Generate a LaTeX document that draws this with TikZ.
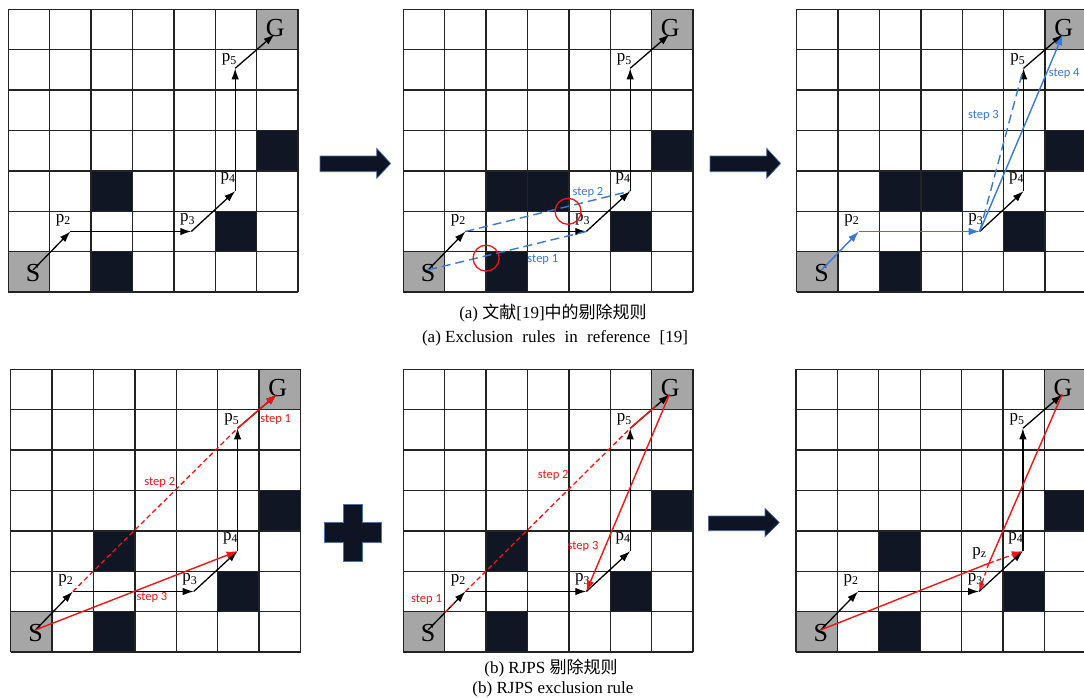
\documentclass[tikz,border=0pt]{standalone}
\usepackage{fontspec}
\setmainfont{Liberation Serif}
\newfontfamily\cjk{Noto Sans CJK SC}
\newfontfamily\stepfont{Carlito}
\usetikzlibrary{arrows.meta,calc}

\definecolor{obst}{RGB}{16,22,36}
\definecolor{sgc}{RGB}{166,166,166}
\definecolor{gl}{RGB}{35,35,35}
\definecolor{bl}{RGB}{58,120,216}
\definecolor{rd}{RGB}{240,20,20}
\definecolor{bigarrow}{RGB}{14,20,36}
\definecolor{bigedge}{RGB}{80,110,170}

\tikzset{
 obstcell/.style={fill=obst},
 sgcell/.style={fill=sgc},
 gline/.style={draw=gl, line width=1.3pt},
 tip/.style={-{Latex[length=11pt,width=7.5pt]}},
 blk/.style={draw=black, line width=1.3pt, tip},
 blu/.style={draw=bl, line width=1.4pt, tip},
 bludash/.style={draw=bl, line width=1.4pt, dash pattern=on 9pt off 5pt},
 rdl/.style={draw=rd, line width=1.4pt},
 rdarrow/.style={draw=rd, line width=1.4pt, tip},
 rddash/.style={draw=rd, line width=1.3pt, dash pattern=on 5pt off 3pt},
 bigl/.style={font=\fontsize{26}{26}\selectfont, inner sep=0pt},
 plab/.style={font=\fontsize{17}{17}\selectfont, inner sep=0pt},
 steplab/.style={font=\stepfont\fontsize{12.5}{12.5}\selectfont, inner sep=0pt},
 ring/.style={draw=rd, line width=1.3pt, circle, minimum size=26pt, inner sep=0pt},
 captext/.style={font=\fontsize{17}{17}\selectfont, inner sep=0pt},
 bigshape/.style={fill=bigarrow, draw=bigedge, line width=0.6pt},
 cellsys/.style={x=41.4pt, y=-40.4pt},
}

\newcommand{\gridbase}[2]{%
  \fill[sgcell] (0,6) rectangle (1,7);
  \fill[sgcell] (6,0) rectangle (7,1);
  \foreach \c/\r in {#2} {\fill[obstcell] (\c,\r) rectangle ++(1,1);}
  \foreach \i in {0,...,7} {\draw[gline] (\i,0) -- (\i,7); \draw[gline] (0,\i) -- (7,\i);}
  \coordinate (#1S) at (0.6,6.45);
  \coordinate (#1p2) at (1.5,5.5);
  \coordinate (#1p3) at (4.42,5.5);
  \coordinate (#1p4) at (5.48,4.5);
  \coordinate (#1p5) at (5.48,1.46);
  \coordinate (#1G) at (6.43,0.62);
  \node[bigl] (#1Sl) at (0.6,6.52) {S};
  \node[bigl] (#1Gl) at (6.45,0.47) {G};
  \node[plab] (#1p2l) at ($(#1p2)+(-0.17,-0.28)$) {p\textsubscript{2}};
  \node[plab] (#1p3l) at ($(#1p3)+(-0.09,-0.29)$) {p\textsubscript{3}};
  \node[plab] (#1p4l) at ($(#1p4)+(-0.17,-0.32)$) {p\textsubscript{4}};
  \node[plab] (#1p5l) at ($(#1p5)+(-0.14,-0.22)$) {p\textsubscript{5}};
}

\begin{document}
\begin{tikzpicture}[x=1pt,y=-1pt]
\useasboundingbox (0,0) rectangle (1084,697);
\fill[white] (0,0) rectangle (1084,697);

% ---------- grid 1 ----------
\begin{scope}[shift={(8.3pt,-9.3pt)},cellsys]
  \gridbase{a}{2/4,6/3,5/5,2/6}
  \draw[blk] (aS) -- (ap2);
  \draw[blk] (ap2) -- (ap3);
  \draw[blk] (ap3) -- (ap4);
  \draw[blk] (ap4) -- (ap5);
  \draw[blk] (ap5) -- (aG);
\end{scope}

% ---------- grid 2 ----------
\begin{scope}[shift={(403.3pt,-9.3pt)},cellsys]
  \gridbase{b}{2/4,3/4,6/3,5/5,2/6}
  \draw[blk] (bS) -- (bp2);
  \draw[blk] (bp2) -- (bp3);
  \draw[blk] (bp3) -- (bp4);
  \draw[blk] (bp4) -- (bp5);
  \draw[blk] (bp5) -- (bG);
  \draw[bludash] (bS) -- (bp3);
  \draw[bludash] (bp2) -- (bp4);
  \node[ring] (bc1) at (2.0,6.16) {};
  \node[ring] (bc2) at (3.98,5.0) {};
  \node[steplab,text=bl] (bs1) at (3.37,6.2) {step 1};
  \node[steplab,text=bl] (bs2) at (4.46,4.53) {step 2};
\end{scope}

% ---------- grid 3 ----------
\begin{scope}[shift={(796.7pt,-9.3pt)},cellsys]
  \gridbase{c}{2/4,3/4,6/3,5/5,2/6}
  \draw[blu] (cS) -- (cp2);
  \draw[blu] (cp2) -- (cp3);
  \draw[blk] (cp3) -- (cp4);
  \draw[blk] (cp4) -- (cp5);
  \draw[blk] (cp5) -- (cG);
  \draw[bludash] (cp3) -- (cp5);
  \draw[blu] (cp3) -- (cG);
  \node[steplab,text=bl] (cs3) at (4.51,2.62) {step 3};
  \node[steplab,text=bl] (cs4) at (6.46,1.58) {step 4};
\end{scope}

% ---------- grid 4 ----------
\begin{scope}[shift={(10.7pt,-369.3pt)},cellsys]
  \gridbase{d}{2/4,6/3,5/5,2/6}
  \draw[blk] (dS) -- (dp2);
  \draw[blk] (dp2) -- (dp3);
  \draw[blk] (dp3) -- (dp4);
  \draw[blk] (dp4) -- (dp5);
  \draw[blk] (dp5) -- (dG);
  \draw[rddash] (dp2) -- (dp5);
  \draw[rdarrow] (dp5) -- (dG);
  \draw[rdarrow] (dS) -- (dp4);
  \node[steplab,text=rd] (ds1) at (6.4,1.25) {step 1};
  \node[steplab,text=rd] (ds2) at (3.6,2.8) {step 2};
  \node[steplab,text=rd] (ds3) at (3.41,5.64) {step 3};
\end{scope}

% ---------- grid 5 ----------
\begin{scope}[shift={(403.3pt,-369.3pt)},cellsys]
  \gridbase{e}{2/4,6/3,5/5,2/6}
  \draw[blk] (eS) -- (ep2);
  \draw[blk] (ep2) -- (ep3);
  \draw[blk] (ep3) -- (ep4);
  \draw[blk] (ep4) -- (ep5);
  \draw[blk] (ep5) -- (eG);
  \draw[rddash] ($(eS)!0.45!(ep2)$) -- ($(eS)!0.75!(ep2)$);
  \draw[rddash] (ep2) -- (ep5);
  \draw[rdl] (ep5) -- ($(ep5)!0.65!(eG)$);
  \draw[rdarrow] (eG) -- (ep3);
  \node[steplab,text=rd] (es1) at (0.56,5.69) {step 1};
  \node[steplab,text=rd] (es2) at (3.62,2.62) {step 2};
  \node[steplab,text=rd] (es3) at (4.34,4.39) {step 3};
\end{scope}

% ---------- grid 6 ----------
\begin{scope}[shift={(796pt,-369.3pt)},cellsys]
  \gridbase{f}{2/4,6/3,5/5,2/6}
  \draw[blk] (fS) -- (fp2);
  \draw[blk] (fp2) -- (fp3);
  \draw[blk] (fp3) -- (fp4);
  \draw[blk] (fp4) -- (fp5);
  \draw[blk] (fp5) -- (fG);
  \coordinate (fpz) at (4.66,4.8);
  \node[plab] (fpzl) at (4.43,4.55) {p\textsubscript{z}};
  \draw[rdl] (fS) -- (fpz) -- (fG);
  \draw[rddash,tip] (fpz) -- (fp4);
  \draw[rddash,-{Latex[length=9pt,width=6pt]}] (fpz) -- (fp3);
\end{scope}

% ---------- big arrows and plus ----------
\draw[bigshape] (320,156) -- (376.7,156) -- (376.7,148.3) -- (390.7,163.5) -- (376.7,178.3) -- (376.7,171.7) -- (320,171.7) -- cycle;
\draw[bigshape] (710,156) -- (766.7,156) -- (766.7,148.3) -- (780.7,163.5) -- (766.7,178.3) -- (766.7,171.7) -- (710,171.7) -- cycle;
\draw[bigshape] (708.3,516) -- (765,516) -- (765,508.3) -- (779.3,522.5) -- (765,536.7) -- (765,530.7) -- (708.3,530.7) -- cycle;
\draw[bigshape] (343.3,504) -- (362.3,504) -- (362.3,522.7) -- (381,522.7) -- (381,542.7) -- (362.3,542.7) -- (362.3,561.7) -- (343.3,561.7) -- (343.3,542.7) -- (324.3,542.7) -- (324.3,522.7) -- (343.3,522.7) -- cycle;

% ---------- captions ----------
\node[captext] (capa1) at (553,313) {(a) {\cjk 文献}[19]{\cjk 中的剔除规则}};
\node[captext] (capa2) at (555,338) {(a) Exclusion\hspace{5pt} rules\hspace{5pt} in\hspace{5pt} reference\hspace{5pt} [19]};
\node[captext] (capb1) at (551,668) {(b) RJPS {\cjk 剔除规则}};
\node[captext] (capb2) at (553,689) {(b) RJPS exclusion rule};
\end{tikzpicture}
\end{document}
